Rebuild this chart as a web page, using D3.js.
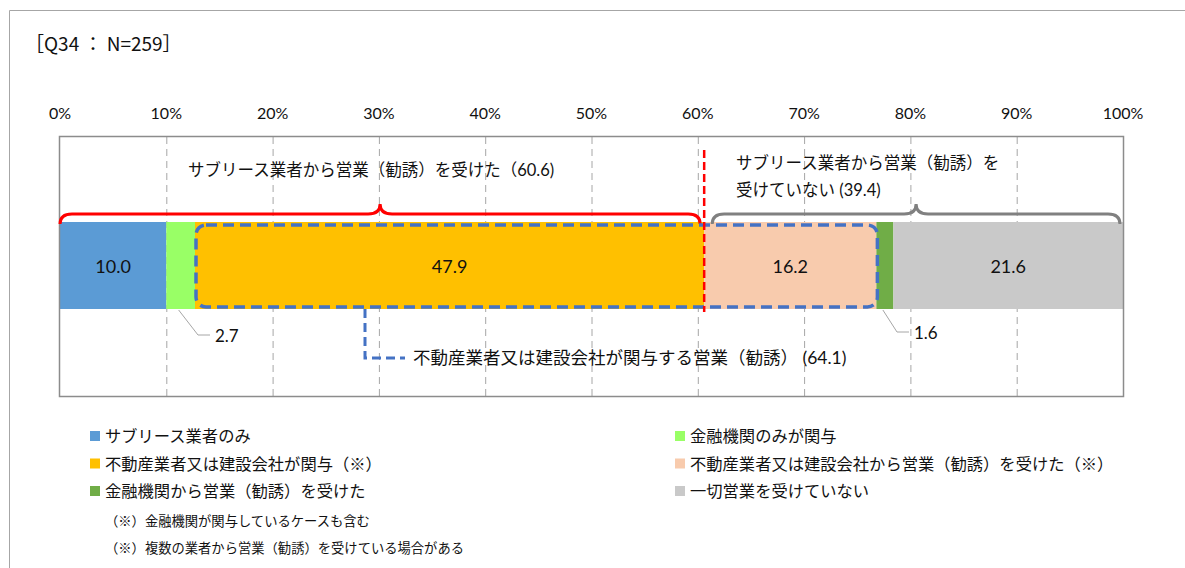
<!DOCTYPE html>
<html>
<head>
<meta charset="utf-8">
<script src="https://cdn.jsdelivr.net/npm/d3@7"></script>
<style>
  body { margin: 0; background: #fff; }
  text { font-family: "Lato", "Noto Sans CJK JP", sans-serif; fill: #111; }
</style>
</head>
<body>
<script>
// data
const categories = ["サブリース業者のみ", "金融機関のみが関与", "不動産業者又は建設会社が関与（※）",
  "不動産業者又は建設会社から営業（勧誘）を受けた（※）", "金融機関から営業（勧誘）を受けた", "一切営業を受けていない"];
const values = [10.0, 2.7, 47.9, 16.2, 1.6, 21.6];
const colors = ["#5B9BD5", "#99FF66", "#FFC000", "#F8CBAD", "#70AD47", "#C9C9C9"];
const ticks = [0, 10, 20, 30, 40, 50, 60, 70, 80, 90, 100];
const notes = ["（※）金融機関が関与しているケースも含む", "（※）複数の業者から営業（勧誘）を受けている場合がある"];
const groupReceived = 60.6, groupNot = 39.4, groupRealEstate = 64.1;

const width = 1185, height = 568;
const svg = d3.select("body").append("svg")
  .attr("width", width).attr("height", height);

// outer frame (left + top only)
svg.append("path").attr("d", "M9.5,568 V10.5 H1185")
  .attr("fill", "none").attr("stroke", "#a6a6a6").attr("stroke-width", 1);

svg.append("text").attr("x", 25).attr("y", 51)
  .style("font-family", "'Noto Sans CJK JP'").style("font-size", "19px")
  .text("［Q34 ： N=259］");

const x = d3.scaleLinear().domain([0, 100]).range([60, 1123]);
const plotTop = 137, plotBottom = 396;
const barTop = 222, barBottom = 309, barMid = (barTop + barBottom) / 2;

// tick labels
svg.selectAll(".tick").data(ticks).enter().append("text")
  .attr("x", d => x(d)).attr("y", 119)
  .attr("text-anchor", "middle").style("font-size", "16px")
  .text(d => d + "%");

// grid lines
svg.selectAll(".grid").data(ticks.slice(1, -1)).enter().append("line")
  .attr("x1", d => x(d) + 0.5).attr("x2", d => x(d) + 0.5)
  .attr("y1", plotTop).attr("y2", plotBottom)
  .attr("stroke", "#a6a6a6").attr("stroke-dasharray", "7,5");

// bar segments
let acc = 0;
const segs = values.map((v, i) => { const s = { v, i, start: acc }; acc += v; return s; });

svg.selectAll(".seg").data(segs).enter().append("rect")
  .attr("x", d => x(d.start)).attr("width", d => x(d.start + d.v) - x(d.start))
  .attr("y", barTop).attr("height", barBottom - barTop)
  .attr("fill", d => colors[d.i]);

svg.selectAll(".lbl").data(segs.filter(d => d.v > 5)).enter().append("text")
  .attr("x", d => x(d.start + d.v / 2)).attr("y", barMid + 7)
  .attr("text-anchor", "middle").style("font-size", "18px")
  .text(d => d.v.toFixed(1));

// plot border
svg.append("rect").attr("x", x(0) - 0.5).attr("y", plotTop - 0.5)
  .attr("width", x(100) - x(0) + 1).attr("height", plotBottom - plotTop + 1)
  .attr("fill", "none").attr("stroke", "#8c8c8c").attr("stroke-width", 1.5);

// small value callouts
const small = segs.filter(d => d.v < 5);
const callOff = [{ lx: 215, ly: 337 }, { lx: 914, ly: 334 }];
small.forEach((d, k) => {
  const c = callOff[k];
  const sx = x(d.start + d.v / 2);
  svg.append("polyline")
    .attr("points", [[sx - 2, barBottom + 1], [c.lx - 17, c.ly - 2], [c.lx - 5, c.ly - 2]].join(" "))
    .attr("fill", "none").attr("stroke", "#a6a6a6").attr("stroke-width", 1);
  svg.append("text").attr("x", c.lx).attr("y", c.ly + 5)
    .style("font-size", "17px").text(d.v.toFixed(1));
});

// brace helper
function brace(x0, x1, yLine, yEnd, yPeak) {
  const r = 12, m = (x0 + x1) / 2;
  return `M${x0},${yEnd} Q${x0},${yLine} ${x0 + r},${yLine} H${m - r} Q${m},${yLine} ${m},${yPeak}` +
    ` Q${m},${yLine} ${m + r},${yLine} H${x1 - r} Q${x1},${yLine} ${x1},${yEnd}`;
}

// red brace: received
svg.append("path").attr("d", brace(x(0), x(groupReceived) - 4, 214, 224, 204))
  .attr("fill", "none").attr("stroke", "#FF0000").attr("stroke-width", 3);
svg.append("text").attr("x", 188).attr("y", 176)
  .style("font-size", "16.5px")
  .text(`サブリース業者から営業（勧誘）を受けた（${groupReceived})`);

// gray brace: not received
svg.append("path").attr("d", brace(x(groupReceived) + 8, x(100) - 3, 214, 224, 204))
  .attr("fill", "none").attr("stroke", "#808080").attr("stroke-width", 3);
svg.append("text").attr("x", 736).attr("y", 169)
  .style("font-size", "16.5px").text("サブリース業者から営業（勧誘）を");
svg.append("text").attr("x", 736).attr("y", 196)
  .style("font-size", "16.5px").text(`受けていない (${groupNot})`);

// blue dashed box: real estate / construction
const bx0 = x(values[0] + values[1]), bx1 = x(values[0] + values[1] + values[2] + values[3]);
svg.append("rect").attr("x", bx0 + 1).attr("y", barTop + 3)
  .attr("width", bx1 - bx0).attr("height", barBottom - barTop - 5)
  .attr("rx", 10).attr("ry", 10)
  .attr("fill", "none").attr("stroke", "#4472C4").attr("stroke-width", 3.5)
  .attr("stroke-dasharray", "11,6");
svg.append("path").attr("d", `M365,${barBottom} V358 H405`)
  .attr("fill", "none").attr("stroke", "#4472C4").attr("stroke-width", 3)
  .attr("stroke-dasharray", "9,5");
svg.append("text").attr("x", 413).attr("y", 364)
  .style("font-size", "17.5px")
  .text(`不動産業者又は建設会社が関与する営業（勧誘） (${groupRealEstate})`);

// red dashed divider
svg.append("line").attr("x1", x(groupReceived)).attr("x2", x(groupReceived))
  .attr("y1", 150).attr("y2", 312)
  .attr("stroke", "#FF0000").attr("stroke-width", 2.5).attr("stroke-dasharray", "8,4");

// legend
const leg = svg.selectAll(".leg").data(categories).enter().append("g")
  .attr("transform", (d, i) => `translate(${i % 2 ? 675 : 90},${436 + Math.floor(i / 2) * 27.5})`);
leg.append("rect").attr("x", 0).attr("y", -5).attr("width", 10).attr("height", 10)
  .attr("fill", (d, i) => colors[i]);
leg.append("text").attr("x", 15).attr("y", 6)
  .style("font-family", "'Noto Sans CJK JP'").style("font-size", "16.3px")
  .text(d => d);

svg.selectAll(".note").data(notes).enter().append("text")
  .attr("x", 105).attr("y", (d, i) => 526 + i * 27)
  .style("font-family", "'Noto Sans CJK JP'").style("font-size", "13.3px")
  .text(d => d);
</script>
</body>
</html>
